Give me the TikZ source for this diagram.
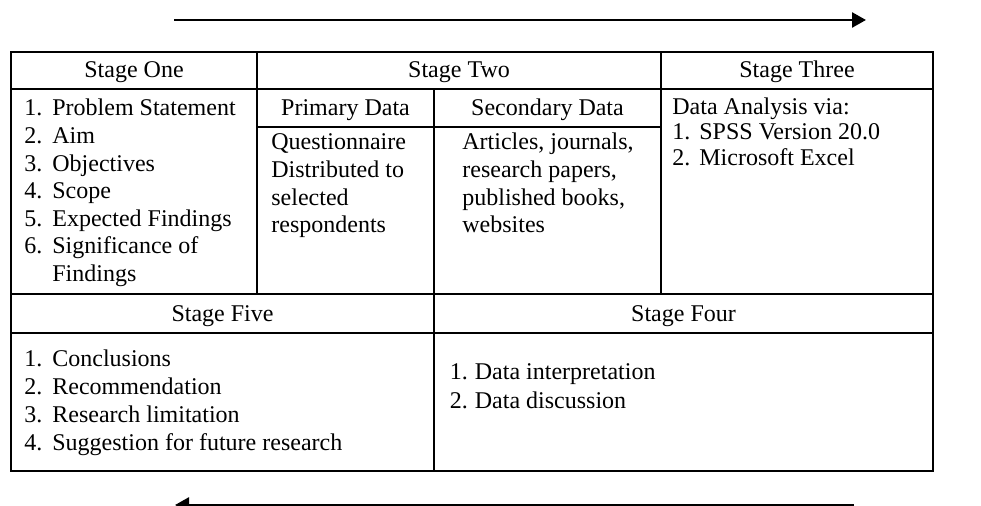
\documentclass[tikz,border=0pt]{standalone}
\usepackage{fontspec}
\setmainfont{Liberation Serif}
\usetikzlibrary{arrows.meta,positioning}

\newcommand{\cellfont}{\fontsize{12}{13.8}\selectfont}
% plain rows of text, top row on the node baseline
\newcommand{\cellrows}[1]{\begin{tabular}[t]{@{}l@{}}#1\end{tabular}}
% numbered rows: number column, then the item text
\newcommand{\numlist}[2][14pt]{\begin{tabular}[t]{@{}p{#1}@{}l@{}}#2\end{tabular}}

\begin{document}
\begin{tikzpicture}[x=0.5pt, y=-0.5pt,
  rulebox/.style={line width=1.2pt},
  flow/.style={line width=1.3pt, -{Triangle[length=7pt, width=7.5pt]}},
  head/.style={font=\cellfont, inner sep=0pt, anchor=base},
  body/.style={font=\cellfont, inner sep=0pt, anchor=base west}]
  \useasboundingbox (0,0) rectangle (981,506);
  % direction of work: forwards above the table, back below it
  \coordinate (fwdS) at (174,20);
  \coordinate (fwdE) at (866,20);
  \coordinate (backS) at (854,505);
  \coordinate (backE) at (175,505);
  \draw[flow] (fwdS) -- (fwdE);
  \draw[flow] (backS) -- (backE);
  % table grid
  \draw[rulebox] (11,52) rectangle (933,471);
  \draw[rulebox] (11,89) -- (933,89);
  \draw[rulebox] (257,127) -- (661,127);
  \draw[rulebox] (11,294) -- (933,294);
  \draw[rulebox] (11,333) -- (933,333);
  \draw[rulebox] (257,52) -- (257,294);
  \draw[rulebox] (661,52) -- (661,294);
  \draw[rulebox] (434,89) -- (434,471);
  % headings
  \node[head] (one)       at (134,78)    {Stage One};
  \node[head] (two)       at (459,78)    {Stage Two};
  \node[head] (three)     at (797,78)    {Stage Three};
  \node[head] (primary)   at (345.5,116) {Primary Data};
  \node[head] (secondary) at (547.5,116) {Secondary Data};
  \node[head] (five)      at (222.5,322) {Stage Five};
  \node[head] (four)      at (683.5,322) {Stage Four};
  % cell contents
  \node[body] (oneList) at (24,116) {\numlist{1.&Problem Statement\\ 2.&Aim\\ 3.&Objectives\\
      4.&Scope\\ 5.&Expected Findings\\ 6.&Significance of\\ &Findings}};
  \node[body] (primaryText) at (271,150) {\cellrows{Questionnaire\\ Distributed to\\
      selected\\ respondents}};
  \node[body] (secondaryText) at (462,150) {\cellrows{Articles, journals,\\
      research papers,\\ published books,\\ websites}};
  \node[body] (threeList) at (672,115) {\renewcommand{\arraystretch}{0.906}%
      \numlist[13.5pt]{\multicolumn{2}{@{}l@{}}{Data Analysis via:}\\
      1.&SPSS Version 20.0\\ 2.&Microsoft Excel}};
  \node[body] (fiveList) at (24,366.5) {\renewcommand{\arraystretch}{1.02}%
      \numlist{1.&Conclusions\\ 2.&Recommendation\\ 3.&Research limitation\\
      4.&Suggestion for future research}};
  \node[body] (fourList) at (449.5,380) {\renewcommand{\arraystretch}{1.02}%
      \numlist[12.5pt]{1.&Data interpretation\\ 2.&Data discussion}};
\end{tikzpicture}
\end{document}
